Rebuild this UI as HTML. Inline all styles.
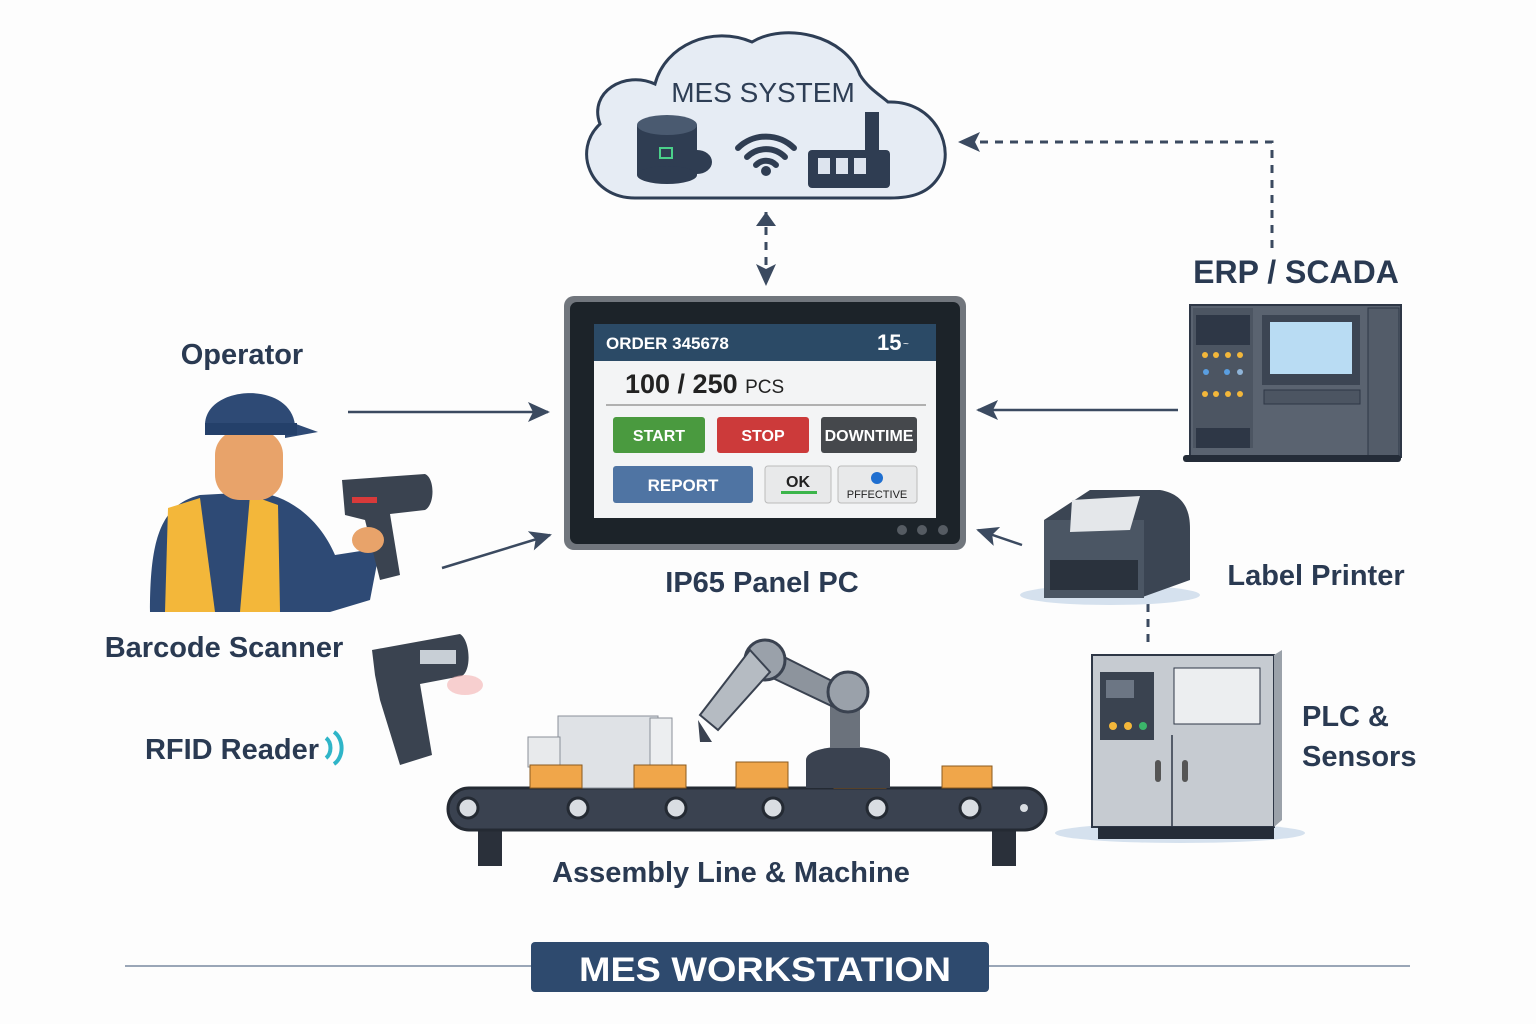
<!DOCTYPE html>
<html><head><meta charset="utf-8"><style>
html,body{margin:0;padding:0;background:#fdfdfd;}
svg{display:block;font-family:"Liberation Sans",sans-serif;}
</style></head><body>
<svg width="1536" height="1024" viewBox="0 0 1536 1024" xmlns="http://www.w3.org/2000/svg">
<defs>
<marker id="ah2" markerWidth="22" markerHeight="20" refX="20" refY="10" orient="auto" markerUnits="userSpaceOnUse"><path d="M0,0 L22,10 L0,20 L5,10 Z" fill="#3b4a60"/></marker>
</defs>
<rect width="1536" height="1024" fill="#fdfdfd"/>

<!-- Cloud -->
<path d="M635,198 C590,198 572,150 600,124 C588,92 625,70 655,84 C665,45 712,25 752,42 C785,22 845,35 860,75 C868,88 880,95 888,102 C935,100 958,150 938,178 C928,193 912,198 890,198 Z" fill="#e6ecf4" stroke="#2e3e55" stroke-width="3"/>
<text x="763" y="102" font-size="28" fill="#2e3e55" text-anchor="middle">MES SYSTEM</text>
<rect x="637" y="125" width="60" height="50" fill="#2f3d52"/>
<ellipse cx="667" cy="125" rx="30" ry="10" fill="#4a5a70"/>
<ellipse cx="667" cy="175" rx="30" ry="9" fill="#2f3d52"/>
<path d="M697,150 a15,12 0 1 1 0,24 z" fill="#2f3d52"/>
<rect x="660" y="148" width="12" height="10" fill="none" stroke="#4bd08a" stroke-width="2"/>
<g fill="none" stroke="#2f3d52" stroke-width="6" stroke-linecap="round">
<path d="M738,148 a40,40 0 0 1 56,0"/><path d="M747,157 a27,27 0 0 1 38,0"/><path d="M756,165 a14,14 0 0 1 20,0"/></g>
<circle cx="766" cy="171" r="5" fill="#2f3d52"/>
<rect x="808" y="150" width="82" height="38" rx="4" fill="#2f3d52"/>
<rect x="865" y="112" width="14" height="40" fill="#2f3d52"/>
<rect x="818" y="158" width="12" height="16" fill="#dde4ee"/><rect x="836" y="158" width="12" height="16" fill="#dde4ee"/><rect x="854" y="158" width="12" height="16" fill="#dde4ee"/>

<line x1="766" y1="212" x2="766" y2="284" stroke="#3b4a60" stroke-width="3" stroke-dasharray="8,7" marker-end="url(#ah2)"/>
<path d="M766,212 l-10,14 h20 z" fill="#3b4a60"/>
<path d="M1272,248 V142 H962" fill="none" stroke="#3b4a60" stroke-width="3" stroke-dasharray="8,7"/>
<path d="M958,142 l22,-10 l-5,10 l5,10 z" fill="#3b4a60"/>
<line x1="1148" y1="604" x2="1148" y2="648" stroke="#3b4a60" stroke-width="3" stroke-dasharray="8,7"/>

<!-- Panel PC -->
<rect x="564" y="296" width="402" height="254" rx="10" fill="#71767d"/>
<rect x="570" y="302" width="390" height="242" rx="7" fill="#1c2329"/>
<rect x="594" y="324" width="342" height="194" fill="#f3f4f5"/>
<rect x="594" y="324" width="342" height="37" fill="#2b4a66"/>
<text x="606" y="349" font-size="17" font-weight="bold" fill="#fff">ORDER 345678</text>
<text x="877" y="350" font-size="22" font-weight="bold" fill="#fff">15</text>
<text x="903" y="347" font-size="10" fill="#fff">~</text>
<text x="625" y="393" font-size="27" font-weight="bold" fill="#222">100 / 250 <tspan font-size="19" font-weight="normal">PCS</tspan></text>
<line x1="606" y1="405" x2="926" y2="405" stroke="#999" stroke-width="1.5"/>
<rect x="613" y="417" width="92" height="36" rx="3" fill="#4a9a3f"/><text x="659" y="441" font-size="16" font-weight="bold" fill="#fff" text-anchor="middle">START</text>
<rect x="717" y="417" width="92" height="36" rx="3" fill="#cc3a3a"/><text x="763" y="441" font-size="16" font-weight="bold" fill="#fff" text-anchor="middle">STOP</text>
<rect x="821" y="417" width="96" height="36" rx="3" fill="#45484c"/><text x="869" y="441" font-size="16" font-weight="bold" fill="#fff" text-anchor="middle">DOWNTIME</text>
<rect x="613" y="466" width="140" height="37" rx="3" fill="#4f74a3"/><text x="683" y="491" font-size="17" font-weight="bold" fill="#fff" text-anchor="middle">REPORT</text>
<rect x="765" y="466" width="66" height="37" rx="3" fill="#e8e9ea" stroke="#bbb"/><text x="798" y="487" font-size="16" font-weight="bold" fill="#222" text-anchor="middle">OK</text><rect x="781" y="491" width="36" height="3" fill="#3bb54a"/>
<rect x="838" y="466" width="79" height="37" rx="3" fill="#e8e9ea" stroke="#bbb"/><circle cx="877" cy="478" r="6" fill="#1f6fd0"/><text x="877" y="498" font-size="11" fill="#222" text-anchor="middle">PFFECTIVE</text>
<circle cx="902" cy="530" r="5" fill="#555b62"/><circle cx="922" cy="530" r="5" fill="#555b62"/><circle cx="943" cy="530" r="5" fill="#555b62"/>
<text x="762" y="592" font-size="29" font-weight="bold" fill="#2a3a52" text-anchor="middle">IP65 Panel PC</text>

<g stroke="#3b4a60" stroke-width="2.5" fill="none">
<line x1="348" y1="412" x2="548" y2="412" marker-end="url(#ah2)"/>
<line x1="442" y1="568" x2="550" y2="535" marker-end="url(#ah2)"/>
<line x1="1178" y1="410" x2="978" y2="410" marker-end="url(#ah2)"/>
<line x1="1022" y1="545" x2="978" y2="530" marker-end="url(#ah2)"/>
</g>

<g font-weight="bold" fill="#2a3a52">
<text x="242" y="364" font-size="29" text-anchor="middle">Operator</text>
<text x="224" y="657" font-size="29" text-anchor="middle">Barcode Scanner</text>
<text x="232" y="759" font-size="29" text-anchor="middle">RFID Reader</text>
<text x="1296" y="283" font-size="32" text-anchor="middle">ERP / SCADA</text>
<text x="1316" y="585" font-size="29" text-anchor="middle">Label Printer</text>
<text x="1302" y="726" font-size="29">PLC &amp;</text>
<text x="1302" y="766" font-size="29">Sensors</text>
<text x="731" y="882" font-size="29" text-anchor="middle">Assembly Line &amp; Machine</text>
</g>
<path d="M326,738 a10,12 0 0 1 0,20 M334,732 a14,18 0 0 1 0,32" stroke="#2fb5c8" stroke-width="4" fill="none"/>

<!-- Operator -->
<path d="M150,612 C150,540 160,505 200,495 L255,492 C290,495 320,520 335,555 L380,548 L370,600 L330,612 Z" fill="#2e4a75"/>
<path d="M168,508 L200,498 L215,612 L165,612 Z" fill="#f3b73a"/>
<path d="M250,495 L278,505 L280,612 L240,612 Z" fill="#f3b73a"/>
<rect x="215" y="430" width="68" height="70" rx="25" fill="#e8a36a"/>
<path d="M205,425 C205,385 290,380 295,425 Z" fill="#2e4a75"/>
<path d="M285,420 L318,432 L285,438 Z" fill="#2e4a75"/>
<rect x="205" y="423" width="92" height="12" fill="#24406a"/>
<path d="M342,480 L425,474 C435,478 435,505 425,510 L390,514 L400,575 L380,580 L365,520 L345,515 Z" fill="#3a4350"/>
<rect x="352" y="497" width="25" height="6" fill="#d83a3a"/>
<ellipse cx="368" cy="540" rx="16" ry="13" fill="#e8a36a"/>

<path d="M372,650 L460,634 C470,640 472,670 462,676 L420,684 L432,755 L400,765 L380,700 L375,675 Z" fill="#3a4350"/>
<rect x="420" y="650" width="36" height="14" fill="#c8cfd6"/>
<ellipse cx="465" cy="685" rx="18" ry="10" fill="#f3b0b0" opacity="0.6"/>

<!-- ERP cabinet -->
<rect x="1190" y="305" width="211" height="152" fill="#5a6370" stroke="#2e3746" stroke-width="2"/>
<rect x="1193" y="308" width="60" height="140" fill="#4c5562"/>
<rect x="1196" y="315" width="54" height="30" fill="#2e3746"/>
<circle cx="1205" cy="355" r="3" fill="#f3b73a"/><circle cx="1216" cy="355" r="3" fill="#f3b73a"/><circle cx="1228" cy="355" r="3" fill="#f3b73a"/><circle cx="1240" cy="355" r="3" fill="#f3b73a"/>
<circle cx="1206" cy="372" r="3" fill="#5a9ee0"/><circle cx="1227" cy="372" r="3" fill="#5a9ee0"/><circle cx="1240" cy="372" r="3" fill="#8fb4d8"/>
<circle cx="1205" cy="394" r="3" fill="#f3b73a"/><circle cx="1216" cy="394" r="3" fill="#f3b73a"/><circle cx="1228" cy="394" r="3" fill="#f3b73a"/><circle cx="1240" cy="394" r="3" fill="#f3b73a"/>
<rect x="1196" y="428" width="54" height="20" fill="#2e3746"/>
<rect x="1262" y="315" width="98" height="70" fill="#3c4553"/>
<rect x="1270" y="322" width="82" height="52" fill="#b9dcf3"/>
<rect x="1264" y="390" width="96" height="14" fill="#4c5562" stroke="#2e3746"/>
<rect x="1368" y="308" width="31" height="148" fill="#535c69" stroke="#2e3746"/>
<rect x="1183" y="455" width="218" height="7" rx="3" fill="#242c38"/>

<!-- Printer -->
<ellipse cx="1110" cy="595" rx="90" ry="10" fill="#d5e1ee"/>
<path d="M1044,520 L1090,490 L1160,490 C1190,495 1190,520 1190,530 L1190,580 L1140,598 L1044,598 Z" fill="#3b4553"/>
<rect x="1044" y="520" width="100" height="78" fill="#4b5664"/>
<path d="M1072,500 L1140,496 L1130,530 L1070,532 Z" fill="#e4e7ea"/>
<rect x="1050" y="560" width="88" height="30" fill="#2a323d"/>

<!-- PLC -->
<ellipse cx="1180" cy="833" rx="125" ry="10" fill="#d5e1ee"/>
<rect x="1092" y="655" width="182" height="172" fill="#c6cbd1" stroke="#2e3746" stroke-width="2"/>
<path d="M1274,655 L1282,650 L1282,820 L1274,827 Z" fill="#9ba2aa"/>
<rect x="1100" y="672" width="54" height="68" fill="#3a4350"/>
<rect x="1106" y="680" width="28" height="18" fill="#6c7684"/>
<circle cx="1113" cy="726" r="4" fill="#f3b73a"/><circle cx="1128" cy="726" r="4" fill="#f3b73a"/><circle cx="1143" cy="726" r="4" fill="#3bb56a"/>
<rect x="1174" y="668" width="86" height="56" fill="#eceef0" stroke="#2e3746"/>
<line x1="1172" y1="735" x2="1172" y2="827" stroke="#2e3746" stroke-width="1.5"/>
<rect x="1155" y="760" width="6" height="22" rx="3" fill="#555"/><rect x="1182" y="760" width="6" height="22" rx="3" fill="#555"/>
<rect x="1098" y="827" width="176" height="12" fill="#242c38"/>

<!-- Conveyor -->
<rect x="478" y="826" width="24" height="40" fill="#2a303a"/><rect x="992" y="826" width="24" height="40" fill="#2a303a"/>
<rect x="448" y="788" width="598" height="42" rx="21" fill="#3a4250" stroke="#242a33" stroke-width="3"/>
<g fill="#d9dde2" stroke="#242a33" stroke-width="3">
<circle cx="468" cy="808" r="10"/><circle cx="578" cy="808" r="10"/><circle cx="676" cy="808" r="10"/><circle cx="773" cy="808" r="10"/><circle cx="877" cy="808" r="10"/><circle cx="970" cy="808" r="10"/></g>
<circle cx="1024" cy="808" r="4" fill="#d9dde2"/>
<rect x="558" y="716" width="100" height="72" fill="#dfe2e6" stroke="#8a9099"/>
<rect x="528" y="737" width="32" height="30" fill="#e8eaec" stroke="#8a9099"/>
<rect x="650" y="718" width="22" height="50" fill="#eceef0" stroke="#8a9099"/>
<g fill="#f0a64a" stroke="#8a5a20" stroke-width="1">
<rect x="530" y="765" width="52" height="23"/><rect x="634" y="765" width="52" height="23"/><rect x="736" y="762" width="52" height="26"/><rect x="834" y="764" width="52" height="24"/><rect x="942" y="766" width="50" height="22"/></g>
<path d="M806,788 L806,760 C806,742 886,742 890,760 L890,788 Z" fill="#3a4250"/>
<rect x="830" y="700" width="30" height="48" fill="#6b727c"/>
<path d="M850,690 L770,650 L760,672 L840,710 Z" fill="#8d949d" stroke="#3a4250" stroke-width="2"/>
<circle cx="848" cy="692" r="20" fill="#9aa1aa" stroke="#3a4250" stroke-width="3"/>
<circle cx="765" cy="660" r="20" fill="#9aa1aa" stroke="#3a4250" stroke-width="3"/>
<path d="M750,650 L700,715 L718,730 L770,672 Z" fill="#b5bbc2" stroke="#3a4250" stroke-width="2"/>
<path d="M698,720 L712,742 L700,742 Z" fill="#3a4250"/>

<line x1="125" y1="966" x2="1410" y2="966" stroke="#7a8aa0" stroke-width="1.5"/>
<rect x="531" y="942" width="458" height="50" rx="4" fill="#2e4a6e"/>
<text x="765" y="981" font-size="34" font-weight="bold" fill="#fff" text-anchor="middle" textLength="372" lengthAdjust="spacingAndGlyphs">MES WORKSTATION</text>
</svg>
</body></html>
